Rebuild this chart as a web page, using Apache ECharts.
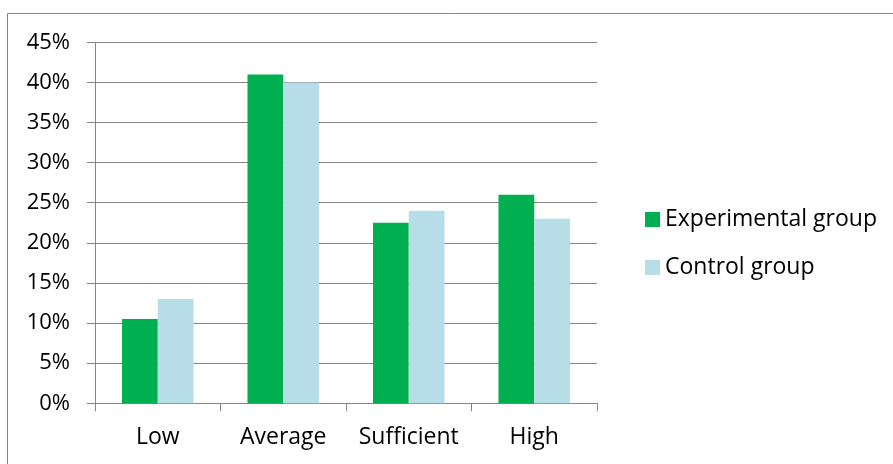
<!DOCTYPE html>
<html>
<head>
<meta charset="utf-8">
<script src="https://cdn.jsdelivr.net/npm/echarts@6/dist/echarts.min.js"></script>
<style>
html,body{margin:0;padding:0;background:#fff;}
#main{width:893px;height:464px;}
</style>
</head>
<body>
<div id="main"></div>
<script>
const categories = ['Low', 'Average', 'Sufficient', 'High'];
const experimental = [10.5, 41, 22.5, 26];
const control = [13, 40, 24, 23];
const yTicks = { min: 0, max: 45, interval: 5 };

const chart = echarts.init(document.getElementById('main'), null, { renderer: 'canvas' });
const font = 'Open Sans';
const grey = '#868686';
chart.setOption({
  animation: false,
  backgroundColor: '#fff',
  graphic: [{
    type: 'rect',
    shape: { x: 7.5, y: 13.5, width: 1200, height: 1200 },
    style: { fill: 'none', stroke: grey, lineWidth: 1 },
    silent: true
  }],
  grid: { left: 95, right: 296, top: 42.3, bottom: 60.7 },
  legend: {
    orient: 'vertical',
    left: 640,
    top: 201,
    icon: 'rect',
    itemWidth: 15,
    itemHeight: 15,
    itemGap: 21,
    textStyle: { fontFamily: font, fontSize: 23, color: '#000', lineHeight: 27 },
    data: ['Experimental group', 'Control group']
  },
  xAxis: {
    type: 'category',
    data: categories,
    axisLine: { lineStyle: { color: grey, width: 1 } },
    axisTick: { show: true, interval: 0, length: 8, lineStyle: { color: grey } },
    axisLabel: { interval: 0, hideOverlap: false, fontFamily: font, fontSize: 23, color: '#000', margin: 23 }
  },
  yAxis: {
    type: 'value',
    min: yTicks.min,
    max: yTicks.max,
    interval: yTicks.interval,
    axisLine: { show: true, lineStyle: { color: grey, width: 1 } },
    axisTick: { show: true, length: 8, lineStyle: { color: grey } },
    splitLine: { lineStyle: { color: grey, width: 1 } },
    axisLabel: { fontFamily: font, fontSize: 22, color: '#000', margin: 25, formatter: '{value}%' }
  },
  series: [
    {
      name: 'Experimental group', type: 'bar', data: experimental,
      itemStyle: { color: '#00B050' }, barGap: '0%', barCategoryGap: '43%'
    },
    {
      name: 'Control group', type: 'bar', data: control,
      itemStyle: { color: '#B7DEE8' }, barGap: '0%', barCategoryGap: '43%'
    }
  ]
});
</script>
</body>
</html>
